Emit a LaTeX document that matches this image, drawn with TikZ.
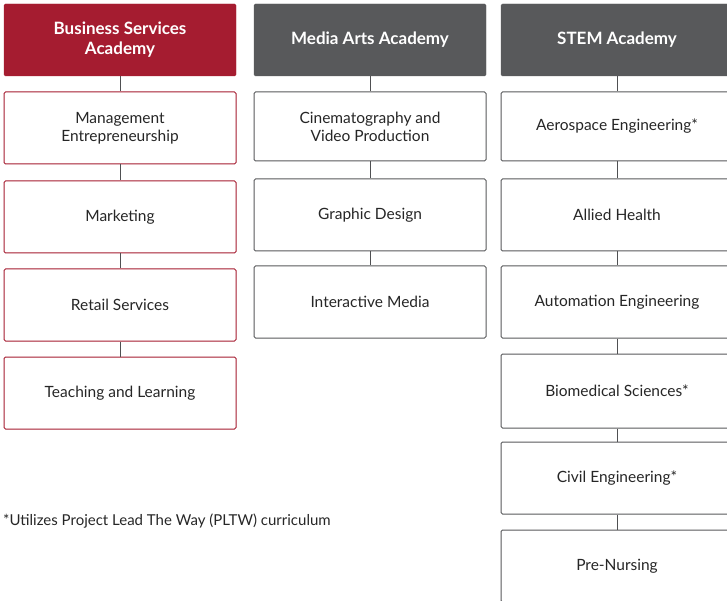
\documentclass[tikz,border=0pt]{standalone}
\usepackage{fontspec}
\setmainfont{Lato}
\definecolor{acadred}{HTML}{A51C30}
\definecolor{acadgray}{HTML}{58595B}
\tikzset{
  acadhead/.style={draw=#1,fill=#1,text=white,font=\fontsize{17}{20}\selectfont\bfseries,
    minimum width=232pt,minimum height=72pt,align=center,rounded corners=1.5pt,inner sep=0pt},
  progbox/.style={draw=#1,fill=white,text=black!85,font=\fontsize{15.5}{18}\selectfont,
    minimum width=232pt,minimum height=72pt,align=center,rounded corners=1.5pt,inner sep=0pt,line width=1pt},
  link/.style={draw=acadgray!90!black,line width=1pt}
}
\begin{document}
\begin{tikzpicture}[x=1pt,y=-1pt]
\useasboundingbox (0,0) rectangle (727,601);
\clip (0,0) rectangle (727,601);
% business services
\node[acadhead=acadred] (bus) at (120,40) {Business Services\\Academy};
\node[progbox=acadred] (bus1) at (120,128) {Management\\Entrepreneurship};
\node[progbox=acadred] (bus2) at (120,217) {Marketing};
\node[progbox=acadred] (bus3) at (120,305) {Retail Services};
\node[progbox=acadred] (bus4) at (120,393) {Teaching and Learning};
\draw[link] (bus) -- (bus1) (bus1) -- (bus2) (bus2) -- (bus3) (bus3) -- (bus4);
% media arts
\node[acadhead=acadgray] (med) at (370,40) {Media Arts Academy};
\node[progbox=acadgray,minimum height=69pt] (med1) at (370,126.5) {Cinematography and\\Video Production};
\node[progbox=acadgray] (med2) at (370,215) {Graphic Design};
\node[progbox=acadgray] (med3) at (370,302) {Interactive Media};
\draw[link] (med) -- (med1) (med1) -- (med2) (med2) -- (med3);
% stem
\node[acadhead=acadgray] (stem) at (617,40) {STEM Academy};
\node[progbox=acadgray,minimum height=69pt] (stem1) at (617,126.5) {Aerospace Engineering*};
\node[progbox=acadgray] (stem2) at (617,215) {Allied Health};
\node[progbox=acadgray] (stem3) at (617,302) {Automation Engineering};
\node[progbox=acadgray,minimum height=74pt] (stem4) at (617,391) {Biomedical Sciences*};
\node[progbox=acadgray] (stem5) at (617,478) {Civil Engineering*};
\node[progbox=acadgray] (stem6) at (617,566) {Pre-Nursing};
\draw[link] (stem) -- (stem1) (stem1) -- (stem2) (stem2) -- (stem3) (stem3) -- (stem4)
  (stem4) -- (stem5) (stem5) -- (stem6);
\node[anchor=west,font=\fontsize{15}{17}\selectfont,text=black!85,inner sep=0pt] (note) at (3,521)
  {*Utilizes Project Lead The Way (PLTW) curriculum};
\end{tikzpicture}
\end{document}
